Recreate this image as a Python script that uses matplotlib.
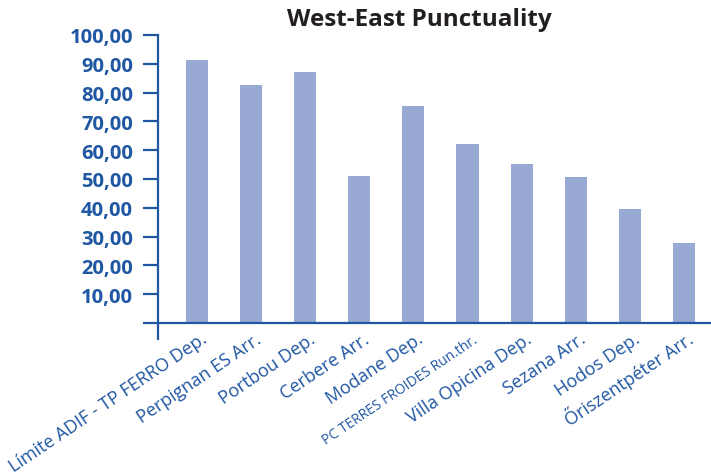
import numpy as np
import matplotlib
matplotlib.use('Agg')
import matplotlib.pyplot as plt
import matplotlib.transforms as mtransforms

# data
stations = ["Límite ADIF - TP FERRO Dep.", "Perpignan ES Arr.", "Portbou Dep.",
            "Cerbere Arr.", "Modane Dep.", "PC TERRES FROIDES Run.thr.",
            "Villa Opicina Dep.", "Sezana Arr.", "Hodos Dep.", "Őriszentpéter Arr."]
punctuality = [91.3, 82.6, 87.2, 51.0, 75.3, 62.2, 55.2, 50.7, 39.6, 27.8]
yticks = [0, 10, 20, 30, 40, 50, 60, 70, 80, 90, 100]

blue = '#1F57A3'
bar_col = '#98A9D4'

plt.rcParams['font.family'] = ['Open Sans', 'DejaVu Sans']

fig = plt.figure(figsize=(7.11, 4.77), dpi=100)
ax = fig.add_axes([158/711, 1 - 324/477, (711 - 158)/711, (324 - 36)/477])

x = np.arange(len(stations))
ax.bar(x, punctuality, width=0.41, color=bar_col, zorder=2)

ax.set_xlim(-0.72, 9.5)
ax.set_ylim(0, 100)

for s in ['top', 'right']:
    ax.spines[s].set_visible(False)
for s in ['left', 'bottom']:
    ax.spines[s].set_color(blue)
    ax.spines[s].set_linewidth(1.6)

ax.set_yticks(yticks)
ax.set_yticklabels(['' if v == 0 else f"{v:.2f}".replace('.', ',') for v in yticks],
                   fontsize=14.5, fontweight='bold', color=blue)
ax.tick_params(axis='y', length=11, width=1.6, color=blue, pad=7)

# single tick below the axis at the left edge
ax.set_xticks([-0.72])
ax.set_xticklabels([''])
ax.tick_params(axis='x', length=12, width=1.6, color=blue)

# rotated category labels
base = mtransforms.blended_transform_factory(ax.transData, ax.transAxes)
for i, name in enumerate(stations):
    off = mtransforms.ScaledTranslation(11/100, -18/100, fig.dpi_scale_trans)
    fs = 10 if name.startswith("PC") else 13
    ax.text(i, 0, name, transform=base + off, rotation=34, rotation_mode='anchor',
            ha='right', va='baseline', fontsize=fs, color=blue)

fig.text(419/711, 1 - 20/477, "West-East Punctuality", ha='center', va='center',
         fontsize=17.5, fontweight='bold', color='#231F20')

fig.savefig('out.png', dpi=100)
